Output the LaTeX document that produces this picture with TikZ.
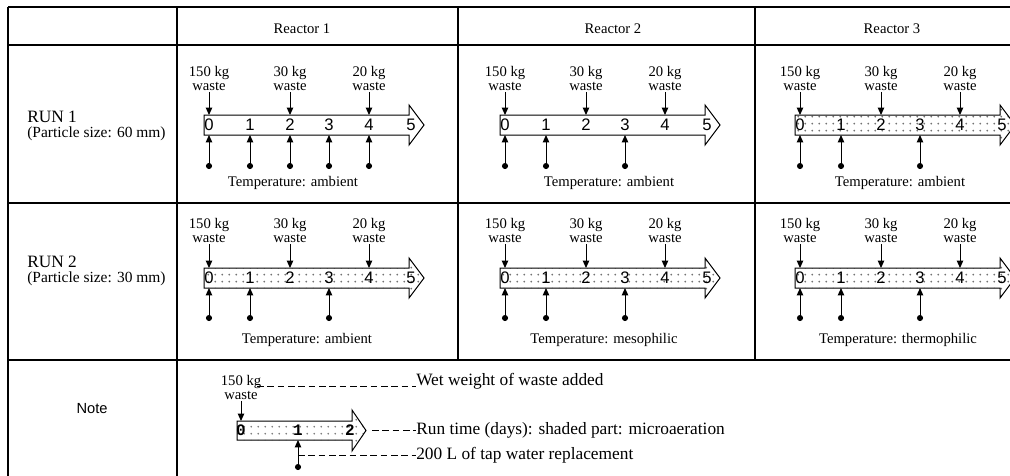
\documentclass[tikz,border=0pt]{standalone}
\usepackage{fontspec}
\setmainfont{Liberation Serif}
\newfontfamily\arialf{Liberation Sans}
\newfontfamily\monof{Liberation Mono}
\usetikzlibrary{arrows.meta,patterns.meta}
\newcommand{\blockarr}[7]{%
  \path[#1] (#2,#5) -- (#3,#5) -- (#3,#5-#6) -- (#4,#5+#7/2) -- (#3,#5+#7+#6) -- (#3,#5+#7) -- (#2,#5+#7) -- cycle;}
\newcommand{\rcell}[6]{%
  \blockarr{#3}{#2}{#2+205}{#2+220}{\yt}{10}{20}
  \foreach \d/\o in {0/5,1/46,2/86,3/125,4/165,5/207}
    \node[dig] (#1n\d) at (#2+\o,\yt+10) {\d};
  \foreach \o/\w [count=\k] in {5/150,86/30,165/20}{
    \node[wst] (#1w\k) at (#2+\o,\yw) {\w\ kg\\waste};
    \coordinate (#1t\k) at (#2+\o,\yt);
    \draw[conn] (#1w\k) -- (#1t\k);
  }
  \foreach \o [count=\k] in {#4}{
    \node[dotn] (#1d\k) at (#2+\o,\yd) {};
    \coordinate (#1b\k) at (#2+\o,\yt+20);
    \draw[conn] (#1d\k) -- (#1b\k);
  }
  \node[lbl] (#1T) at (#2+#6,\yT) {Temperature: #5};
}
\begin{document}
\begin{tikzpicture}[x=0.75pt,y=-0.75pt,
  grid/.style={line width=0.8pt},
  blk/.style={draw, line width=0.75pt, fill=white},
  shd/.style={draw, line width=0.75pt, pattern={Dots[distance=5.4pt,radius=0.8pt]}, pattern color=black!55},
  dig/.style={font=\arialf\fontsize{12.5}{12}\selectfont, inner sep=0pt},
  ndig/.style={font=\monof\bfseries\fontsize{12}{12}\selectfont, inner sep=0pt},
  lbl/.style={font=\fontsize{11}{12}\selectfont, inner sep=0pt},
  hdr/.style={font=\fontsize{11}{12}\selectfont, inner sep=0pt},
  runl/.style={font=\fontsize{13}{13}\selectfont, inner sep=0pt, anchor=west},
  psl/.style={font=\fontsize{11.6}{13}\selectfont, inner sep=0pt, anchor=west},
  wst/.style={font=\fontsize{11}{10.5}\selectfont, align=center, inner sep=1pt},
  ntxt/.style={font=\fontsize{13}{14}\selectfont, inner sep=0pt, anchor=west},
  conn/.style={line width=0.75pt, -{Triangle[length=5.5pt,width=4.8pt]}},
  dsh/.style={line width=0.6pt, dash pattern=on 5pt off 2.75pt},
  dotn/.style={circle, fill=black, inner sep=0pt, minimum size=4.6pt}
]
\useasboundingbox (0,0) rectangle (1010,475);
\clip (0,0) rectangle (1010,475);
% table grid
\draw[grid] (8,7) -- (1040,7);
\draw[grid] (8,45) -- (1040,45);
\draw[grid] (8,203) -- (1040,203);
\draw[grid] (8,360) -- (1040,360);
\draw[grid] (8,7) -- (8,480);
\draw[grid] (177,7) -- (177,480);
\draw[grid] (458,7) -- (458,360);
\draw[grid] (755,7) -- (755,360);
% headers
\node[hdr] (h1) at (302,29) {Reactor 1};
\node[hdr] (h2) at (613,29) {Reactor 2};
\node[hdr] (h3) at (892,29) {Reactor 3};
% left labels
\node[runl] (run1) at (27,117) {RUN 1};
\node[psl] (ps1) at (27,134) {(Particle size: 60 mm)};
\node[runl] (run2) at (27,262) {RUN 2};
\node[psl] (ps2) at (27,279) {(Particle size: 30 mm)};
% row 1
\def\yt{115}\def\yw{78}\def\yd{166}\def\yT{183}
\rcell{a}{204}{blk}{5,46,86,125,165}{ambient}{89}
\rcell{b}{500}{blk}{5,46,125}{ambient}{109}
\rcell{c}{795}{shd}{5,46,125}{ambient}{105}
% row 2
\def\yt{268}\def\yw{230}\def\yd{318}\def\yT{340}
\rcell{d}{204}{shd}{5,46,125}{ambient}{103}
\rcell{e}{500}{shd}{5,46,125}{mesophilic}{104}
\rcell{f}{795}{shd}{5,46,125}{thermophilic}{103}
% note row
\node[font=\arialf\fontsize{11}{12}\selectfont, inner sep=0pt] (note) at (92,409) {Note};
\node[wst] (nw) at (241,387) {150 kg\\waste};
\blockarr{shd}{237}{352}{366}{421}{11}{19}
\node[ndig] (m0) at (241,430.5) {0};
\node[ndig] (m1) at (298,430.5) {1};
\node[ndig] (m2) at (350,430.5) {2};
\coordinate (nt) at (241,421);
\draw[conn] (nw) -- (nt);
\node[dotn] (nd) at (298,467) {};
\coordinate (nb) at (298,440);
\draw[conn] (nd) -- (nb);
\node[ntxt] (wet) at (416,381) {Wet weight of waste added};
\node[ntxt] (runt) at (416,430) {Run time (days): shaded part: microaeration};
\node[ntxt] (tap) at (416,455) {200 L of tap water replacement};
\coordinate (da) at (257,386);
\draw[dsh] (da) -- (da -| wet.west);
\coordinate (db) at (372,430);
\draw[dsh] (db) -- (runt.west);
\coordinate (dc) at (298,455);
\draw[dsh] (dc) -- (tap.west);
\end{tikzpicture}
\end{document}
